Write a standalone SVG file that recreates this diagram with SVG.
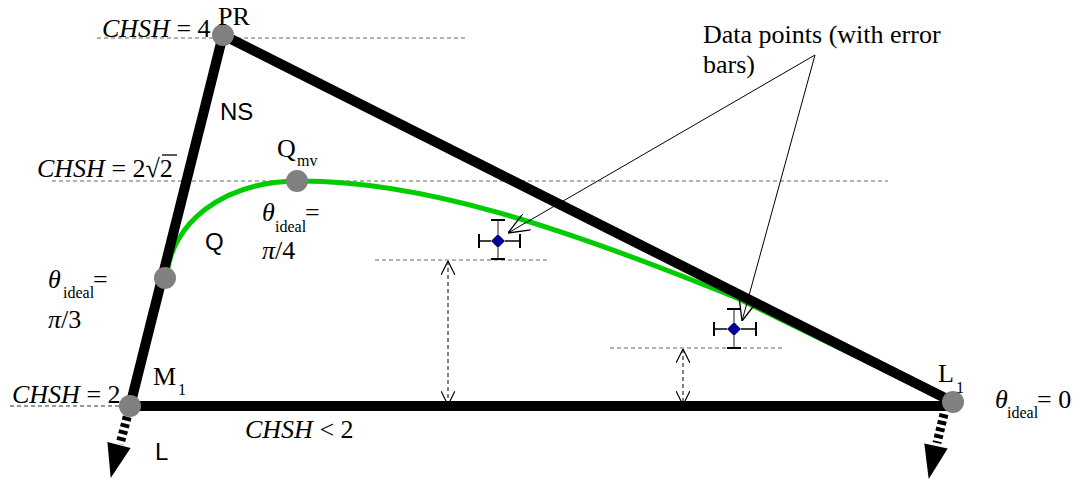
<svg xmlns="http://www.w3.org/2000/svg" width="1080" height="482" viewBox="0 0 1080 482">
<style>
.tr{font-family:"Liberation Serif","Times New Roman",serif;font-size:26px;fill:#000}
.ar{font-family:"Liberation Sans",Arial,sans-serif;font-size:24px;fill:#000}
.sub{font-family:"Liberation Serif","Times New Roman",serif;font-size:16px;fill:#000}
.it{font-style:italic}
.guide{stroke:#666;stroke-width:1;stroke-dasharray:4,3;fill:none}
.edge{stroke:#000;stroke-width:10;fill:none;stroke-linecap:butt}
.dot{fill:#808080}
.hatch{stroke:#000;stroke-width:9;stroke-dasharray:4,3;fill:none}
.thin{stroke:#000;stroke-width:1;fill:none}
.vbar{stroke:#666;stroke-width:1.5}
.cap{stroke:#000;stroke-width:2}
.hbar{stroke:#000;stroke-width:1.5}
.diam{fill:#000099;stroke:#999;stroke-width:1}
</style>
<defs>
<marker id="vsm" viewBox="0 0 14 14" refX="14" refY="7" markerWidth="14" markerHeight="14" markerUnits="userSpaceOnUse" orient="auto-start-reverse"><path d="M0,0 L14,7 L0,14" fill="none" stroke="#000" stroke-width="1.2"/></marker>
<marker id="vlg" viewBox="0 0 22 18" refX="22" refY="9" markerWidth="22" markerHeight="18" markerUnits="userSpaceOnUse" orient="auto"><path d="M0,0 L22,9 L0,18" fill="none" stroke="#000" stroke-width="1.3"/></marker>
</defs>

<g id="guides">
<line class="guide" x1="97" y1="38" x2="465" y2="38"/>
<line class="guide" x1="52" y1="181" x2="888" y2="181"/>
<line class="guide" x1="375" y1="260" x2="550" y2="260"/>
<line class="guide" x1="610" y1="348" x2="782" y2="348"/>
<line class="guide" x1="10" y1="406" x2="125" y2="406" style="stroke:#333"/>
</g>

<g id="quantum-curve">
<path d="M167,274 C172,225 220,182 297,181 C420,180 560,226 737,298 L952,403" fill="none" stroke="#00cc00" stroke-width="5"/>
</g>

<g id="connectors">
<line class="edge" x1="223" y1="35" x2="130" y2="406"/>
<line class="edge" x1="223" y1="35" x2="953" y2="402"/>
<line class="edge" x1="130" y1="406" x2="953" y2="406"/>
<line class="hatch" x1="129" y1="410" x2="120" y2="444"/>
<polygon points="130.6,447.9 107.4,442.1 110.7,478" fill="#000"/>
<line class="hatch" x1="944" y1="414" x2="937" y2="443"/>
<polygon points="947.7,448.6 924.3,443.4 928.7,479" fill="#000"/>
<line class="thin" x1="448" y1="261" x2="448" y2="405" style="stroke-dasharray:4,3" marker-start="url(#vsm)" marker-end="url(#vsm)"/>
<line class="thin" x1="683" y1="349" x2="683" y2="405" style="stroke-dasharray:4,3" marker-start="url(#vsm)" marker-end="url(#vsm)"/>
<line class="thin" x1="815" y1="55" x2="508" y2="233" marker-end="url(#vlg)"/>
<line class="thin" x1="815" y1="55" x2="742" y2="321" marker-end="url(#vlg)"/>
</g>

<g id="node-PR"><circle class="dot" cx="223" cy="35" r="11"/><text class="tr" x="218" y="25">PR</text></g>
<g id="node-Qmv"><circle class="dot" cx="297" cy="181" r="11"/><text class="tr" x="277" y="157">Q</text><text class="sub" x="297" y="166">mv</text></g>
<g id="node-pi3"><circle class="dot" cx="165" cy="278" r="11"/></g>
<g id="node-M1"><circle class="dot" cx="130" cy="406" r="11"/><text class="tr" x="153" y="385">M</text><text class="sub" x="178" y="395">1</text></g>
<g id="node-L1"><circle class="dot" cx="953" cy="402" r="11"/><text class="tr" x="938" y="382">L</text><text class="sub" x="956" y="393">1</text></g>

<g id="datapoint-1">
<line class="vbar" x1="498" y1="220" x2="498" y2="259"/>
<line class="cap" x1="491" y1="220" x2="505" y2="220"/>
<line class="cap" x1="491" y1="259" x2="505" y2="259"/>
<line class="hbar" x1="479" y1="241" x2="520" y2="241"/>
<line class="cap" x1="479" y1="234" x2="479" y2="248"/>
<line class="cap" x1="520" y1="234" x2="520" y2="248"/>
<polygon class="diam" points="498,234 505,241 498,248 491,241"/>
</g>
<g id="datapoint-2">
<line class="vbar" x1="734" y1="309" x2="734" y2="348"/>
<line class="cap" x1="727" y1="309" x2="741" y2="309"/>
<line class="cap" x1="727" y1="348" x2="741" y2="348"/>
<line class="hbar" x1="714" y1="329" x2="756" y2="329"/>
<line class="cap" x1="714" y1="322" x2="714" y2="336"/>
<line class="cap" x1="756" y1="322" x2="756" y2="336"/>
<polygon class="diam" points="734,322 741,329 734,336 727,329"/>
</g>

<g id="labels">
<text class="tr" x="102" y="37"><tspan class="it">CHSH</tspan> = 4</text>
<text class="ar" x="220" y="120">NS</text>
<text class="tr" x="37" y="177"><tspan class="it">CHSH</tspan> = 2√2</text>
<line x1="162" y1="155" x2="177" y2="155" stroke="#000" stroke-width="1.3"/>
<text class="ar" x="205" y="250">Q</text>
<text class="tr" x="262" y="221"><tspan class="it">θ</tspan></text><text class="sub" x="275" y="232">ideal</text><text class="tr" x="305" y="221">=</text>
<text class="tr it" x="262" y="259">π<tspan font-style="normal">/4</tspan></text>
<text class="tr" x="48" y="288"><tspan class="it">θ</tspan></text><text class="sub" x="63" y="298">ideal</text><text class="tr" x="93" y="288">=</text>
<text class="tr it" x="48" y="328">π<tspan font-style="normal">/3</tspan></text>
<text class="tr" x="12" y="403"><tspan class="it">CHSH</tspan> = 2</text>
<text class="tr" x="245" y="438"><tspan class="it">CHSH</tspan> &lt; 2</text>
<text class="ar" x="155" y="460">L</text>
<text class="tr" x="995" y="408"><tspan class="it">θ</tspan></text><text class="sub" x="1007" y="418">ideal</text><text class="tr" x="1037" y="408">= 0</text>
<text class="tr" x="703" y="43">Data points (with error</text>
<text class="tr" x="703" y="73">bars)</text>
</g>
</svg>
